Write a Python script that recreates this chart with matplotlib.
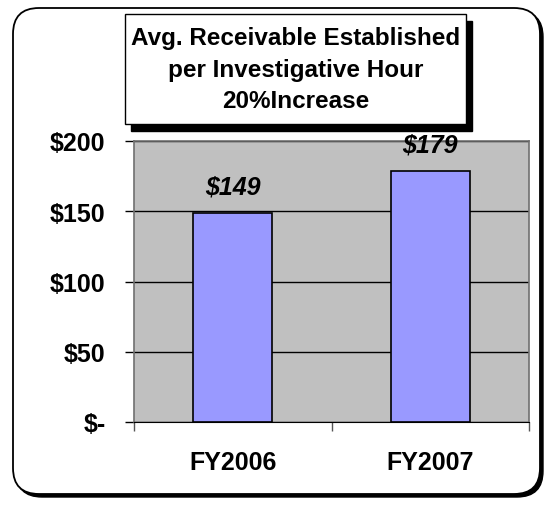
import matplotlib.pyplot as plt
from matplotlib.patches import FancyBboxPatch, Rectangle
from matplotlib.transforms import IdentityTransform
from matplotlib.ticker import FixedLocator

categories = ['FY2006', 'FY2007']
values = [149, 179]
value_labels = ['$149', '$179']
yticks = [0, 50, 100, 150, 200]
ytick_labels = ['$-', '$50', '$100', '$150', '$200']
title_lines = ['Avg. Receivable Established', 'per Investigative Hour', '20%Increase']

W, H = 547, 506
plt.rcParams['font.family'] = ['Liberation Sans', 'DejaVu Sans']

fig = plt.figure(figsize=(W / 100, H / 100), dpi=100)
fig.patch.set_facecolor('white')
px = IdentityTransform()

# outer rounded frame with shadow (pixel coords, y up)
shadow = FancyBboxPatch((16, 8), 527, 486, boxstyle='round,pad=0,rounding_size=26',
                        transform=px, facecolor='black', edgecolor='black', lw=1, zorder=-3)
frame = FancyBboxPatch((13, 11), 527, 486, boxstyle='round,pad=0,rounding_size=26',
                       transform=px, facecolor='white', edgecolor='black', lw=1.3, zorder=-2)
fig.patches.extend([shadow, frame])

ax = fig.add_axes([134 / W, (H - 423) / H, 395 / W, 281 / H])
ax.set_facecolor('#c0c0c0')
x = [0.5, 1.5]
ax.bar(x, values, width=0.4, color='#9999ff', edgecolor='black', linewidth=1.2, zorder=3)
ax.set_xlim(0, 2)
ax.set_ylim(0, 200)
ax.set_yticks(yticks)
ax.set_yticklabels(ytick_labels, fontsize=18, fontweight='bold')
ax.yaxis.grid(True, color='black', linewidth=1, zorder=1)
ax.set_axisbelow(True)
ax.tick_params(axis='y', direction='out', length=6.5, width=1, pad=14)
ax.set_xticks(x)
ax.set_xticklabels(categories, fontsize=18, fontweight='bold')
ax.tick_params(axis='x', length=0, pad=20)
ax.xaxis.set_minor_locator(FixedLocator([0, 1, 2]))
ax.tick_params(axis='x', which='minor', direction='out', length=6.5, width=1, color='#555555')
for side in ['top', 'right', 'left']:
    ax.spines[side].set_color('#707070')
    ax.spines[side].set_linewidth(1.2)
ax.spines['bottom'].set_color('black')

for xi, v, lab in zip(x, values, value_labels):
    ax.annotate(lab, (xi, v), xytext=(0, 10), textcoords='offset points', ha='center',
                va='bottom', fontsize=18, fontweight='bold', fontstyle='italic')

# title box with shadow
fig.patches.append(Rectangle((131, H - 132), 341, 110, transform=px, facecolor='black',
                             edgecolor='black', zorder=5))
fig.patches.append(Rectangle((125, H - 125), 341, 110, transform=px, facecolor='white',
                             edgecolor='black', lw=1, zorder=6))
fig.text(296 / W, (H - 70) / H, '\n'.join(title_lines), ha='center', va='center',
         fontsize=17.5, fontweight='bold', linespacing=1.5, zorder=7)

fig.savefig('out.png', dpi=100)
